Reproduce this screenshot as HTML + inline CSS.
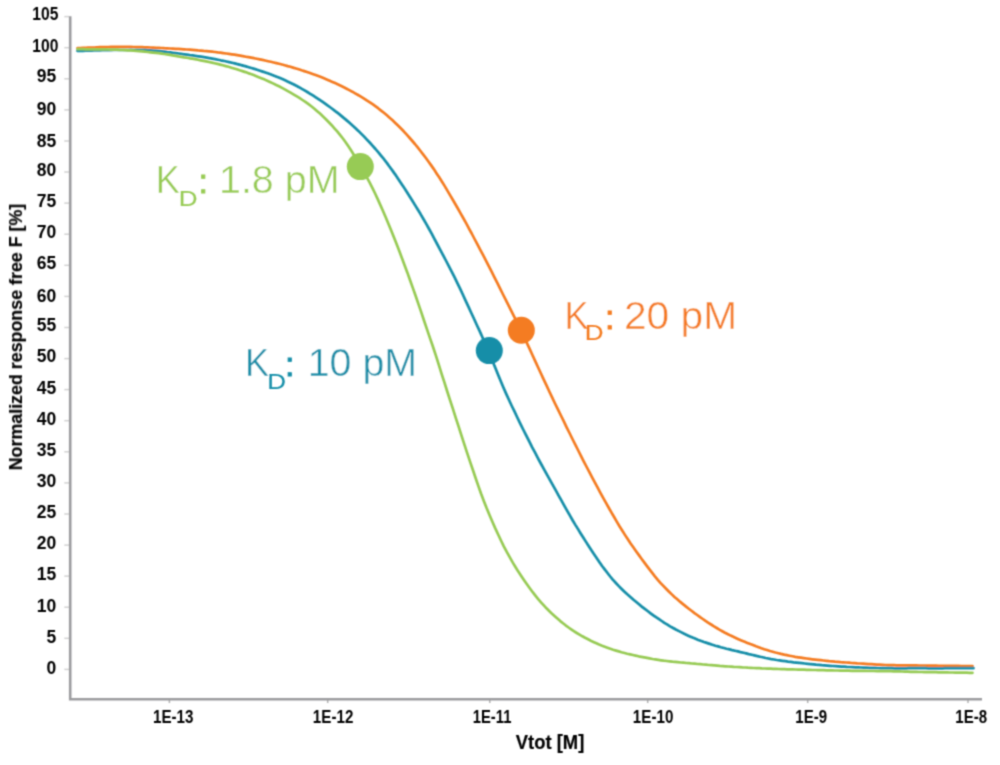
<!DOCTYPE html>
<html><head><meta charset="utf-8"><style>
html,body{margin:0;padding:0;background:#fff;}
body{width:1000px;height:765px;overflow:hidden;font-family:"Liberation Sans",sans-serif;}
svg{display:block;}
</style></head><body>
<svg width="1000" height="765" viewBox="0 0 1000 765">
<defs><filter id="bl" x="0" y="0" width="1000" height="765" filterUnits="userSpaceOnUse"><feConvolveMatrix order="3" kernelMatrix="1 3 1 3 9 3 1 3 1" divisor="25" edgeMode="none"/></filter></defs>
<rect width="1000" height="765" fill="#fff"/>
<g filter="url(#bl)">
<g fill="none" stroke-linecap="butt">
<line x1="64.3" y1="669.4" x2="69" y2="669.4" stroke="#d2d2d2" stroke-width="1.5"/>
<line x1="64.3" y1="638.3" x2="69" y2="638.3" stroke="#d2d2d2" stroke-width="1.5"/>
<line x1="64.3" y1="607.2" x2="69" y2="607.2" stroke="#d2d2d2" stroke-width="1.5"/>
<line x1="64.3" y1="576.1" x2="69" y2="576.1" stroke="#d2d2d2" stroke-width="1.5"/>
<line x1="64.3" y1="545.1" x2="69" y2="545.1" stroke="#d2d2d2" stroke-width="1.5"/>
<line x1="64.3" y1="514.0" x2="69" y2="514.0" stroke="#d2d2d2" stroke-width="1.5"/>
<line x1="64.3" y1="482.9" x2="69" y2="482.9" stroke="#d2d2d2" stroke-width="1.5"/>
<line x1="64.3" y1="451.8" x2="69" y2="451.8" stroke="#d2d2d2" stroke-width="1.5"/>
<line x1="64.3" y1="420.7" x2="69" y2="420.7" stroke="#d2d2d2" stroke-width="1.5"/>
<line x1="64.3" y1="389.6" x2="69" y2="389.6" stroke="#d2d2d2" stroke-width="1.5"/>
<line x1="64.3" y1="358.6" x2="69" y2="358.6" stroke="#d2d2d2" stroke-width="1.5"/>
<line x1="64.3" y1="327.5" x2="69" y2="327.5" stroke="#d2d2d2" stroke-width="1.5"/>
<line x1="64.3" y1="296.4" x2="69" y2="296.4" stroke="#d2d2d2" stroke-width="1.5"/>
<line x1="64.3" y1="265.3" x2="69" y2="265.3" stroke="#d2d2d2" stroke-width="1.5"/>
<line x1="64.3" y1="234.2" x2="69" y2="234.2" stroke="#d2d2d2" stroke-width="1.5"/>
<line x1="64.3" y1="203.1" x2="69" y2="203.1" stroke="#d2d2d2" stroke-width="1.5"/>
<line x1="64.3" y1="172.0" x2="69" y2="172.0" stroke="#d2d2d2" stroke-width="1.5"/>
<line x1="64.3" y1="141.0" x2="69" y2="141.0" stroke="#d2d2d2" stroke-width="1.5"/>
<line x1="64.3" y1="109.9" x2="69" y2="109.9" stroke="#d2d2d2" stroke-width="1.5"/>
<line x1="64.3" y1="78.8" x2="69" y2="78.8" stroke="#d2d2d2" stroke-width="1.5"/>
<line x1="64.3" y1="47.7" x2="69" y2="47.7" stroke="#d2d2d2" stroke-width="1.5"/>
<line x1="64.3" y1="16.6" x2="69" y2="16.6" stroke="#d2d2d2" stroke-width="1.5"/>
<line x1="169.4" y1="700" x2="169.4" y2="703" stroke="#b0b0b0" stroke-width="1.5"/>
<line x1="327.7" y1="700" x2="327.7" y2="703" stroke="#b0b0b0" stroke-width="1.5"/>
<line x1="489.8" y1="700" x2="489.8" y2="703" stroke="#b0b0b0" stroke-width="1.5"/>
<line x1="647.7" y1="700" x2="647.7" y2="703" stroke="#b0b0b0" stroke-width="1.5"/>
<line x1="807.7" y1="700" x2="807.7" y2="703" stroke="#b0b0b0" stroke-width="1.5"/>
<line x1="968.0" y1="700" x2="968.0" y2="703" stroke="#b0b0b0" stroke-width="1.5"/>
<path d="M70.2 16.2 V699.2 H982" stroke="#9c9c9f" stroke-width="2.6"/>
</g>
<g font-family="Liberation Sans, sans-serif" font-weight="bold" font-size="17.5" fill="#000" text-anchor="end">
<text x="58.3" y="20.0" textLength="26" lengthAdjust="spacingAndGlyphs">105</text>
<text x="58.3" y="51.8" textLength="26" lengthAdjust="spacingAndGlyphs">100</text>
<text x="56.2" y="82.0">95</text>
<text x="56.2" y="115.2">90</text>
<text x="56.2" y="146.5">85</text>
<text x="56.2" y="175.6">80</text>
<text x="56.2" y="206.7">75</text>
<text x="56.2" y="237.8">70</text>
<text x="56.2" y="269.0">65</text>
<text x="56.2" y="302.4">60</text>
<text x="56.2" y="331.3">55</text>
<text x="56.2" y="362.4">50</text>
<text x="56.2" y="393.6">45</text>
<text x="56.2" y="424.7">40</text>
<text x="56.2" y="455.8">35</text>
<text x="56.2" y="487.2">30</text>
<text x="56.2" y="518.1">25</text>
<text x="56.2" y="549.2">20</text>
<text x="56.2" y="580.4">15</text>
<text x="56.2" y="611.5">10</text>
<text x="56.2" y="642.7">5</text>
<text x="56.2" y="673.8">0</text>
</g>
<g font-family="Liberation Sans, sans-serif" font-weight="bold" font-size="17.5" fill="#000" text-anchor="middle">
<text x="173.2" y="722.6" textLength="40.5" lengthAdjust="spacingAndGlyphs">1E-13</text>
<text x="333.1" y="722.6" textLength="40.5" lengthAdjust="spacingAndGlyphs">1E-12</text>
<text x="492.1" y="722.6" textLength="38.7" lengthAdjust="spacingAndGlyphs">1E-11</text>
<text x="653.1" y="722.6" textLength="40.5" lengthAdjust="spacingAndGlyphs">1E-10</text>
<text x="811.2" y="722.6" textLength="31.8" lengthAdjust="spacingAndGlyphs">1E-9</text>
<text x="971.2" y="722.6" textLength="31.8" lengthAdjust="spacingAndGlyphs">1E-8</text>
</g>
<text x="550.05" y="749" font-family="Liberation Sans, sans-serif" font-weight="bold" font-size="19.5" fill="#000" stroke="#000" stroke-width="0.2" text-anchor="middle" textLength="68.5" lengthAdjust="spacingAndGlyphs">Vtot [M]</text>
<text transform="translate(22 470.3) rotate(-90)" x="0" y="0" font-family="Liberation Sans, sans-serif" font-weight="bold" font-size="17.5" fill="#000" stroke="#000" stroke-width="0.2" textLength="266.5" lengthAdjust="spacingAndGlyphs">Normalized response free F [%]</text>
<path d="M77.5 48.0 L80.2 48.0 L82.9 47.9 L85.8 47.8 L88.5 47.7 L91.5 47.6 L94.2 47.5 L96.9 47.3 L99.9 47.2 L102.6 47.1 L105.6 47.0 L108.2 47.0 L110.9 46.9 L113.9 46.9 L116.6 46.9 L119.6 46.8 L122.3 46.8 L125.0 46.8 L128.0 46.9 L130.6 46.9 L133.6 47.0 L136.3 47.1 L139.0 47.1 L142.0 47.2 L144.7 47.3 L147.7 47.4 L150.4 47.5 L153.0 47.6 L156.0 47.8 L158.7 47.9 L161.7 48.0 L164.4 48.2 L167.1 48.3 L170.1 48.5 L172.8 48.6 L175.7 48.8 L178.4 48.9 L181.1 49.1 L184.1 49.3 L186.8 49.5 L189.8 49.7 L192.5 49.9 L195.2 50.1 L198.1 50.4 L200.8 50.6 L203.8 50.9 L206.5 51.1 L209.2 51.4 L212.2 51.7 L214.9 52.0 L217.8 52.4 L220.5 52.7 L223.2 53.1 L226.2 53.5 L228.9 53.9 L231.8 54.3 L234.5 54.7 L237.2 55.2 L240.2 55.7 L242.8 56.1 L245.8 56.7 L248.5 57.2 L251.2 57.7 L254.1 58.2 L256.8 58.8 L259.8 59.4 L262.4 59.9 L265.1 60.5 L268.1 61.2 L270.8 61.8 L273.7 62.5 L276.4 63.1 L279.1 63.8 L282.0 64.5 L284.7 65.2 L287.7 66.1 L290.4 66.8 L293.0 67.6 L296.0 68.5 L298.7 69.3 L301.6 70.3 L304.3 71.1 L307.0 72.0 L310.0 73.1 L312.6 74.0 L315.6 75.1 L318.3 76.1 L321.0 77.1 L324.0 78.3 L326.7 79.4 L329.7 80.7 L332.4 81.9 L335.1 83.1 L338.1 84.5 L340.8 85.8 L343.8 87.3 L346.6 88.7 L349.3 90.1 L352.3 91.7 L355.1 93.3 L358.1 95.0 L360.9 96.6 L363.7 98.3 L366.7 100.3 L369.5 102.1 L372.6 104.2 L375.3 106.1 L378.1 108.2 L381.1 110.6 L383.9 112.8 L386.9 115.3 L389.6 117.7 L392.3 120.1 L395.3 122.9 L398.0 125.5 L401.0 128.5 L403.7 131.3 L406.3 134.2 L409.3 137.5 L411.9 140.5 L414.9 144.0 L417.5 147.2 L420.1 150.5 L423.1 154.3 L425.7 157.7 L428.6 161.7 L431.2 165.4 L433.8 169.1 L436.6 173.4 L439.2 177.3 L442.0 181.8 L444.6 185.9 L447.1 190.1 L449.9 194.9 L452.5 199.2 L455.4 204.2 L458.0 208.7 L460.6 213.3 L463.5 218.5 L466.1 223.2 L469.0 228.6 L471.7 233.5 L474.3 238.5 L477.3 244.1 L479.9 249.2 L483.0 254.9 L485.7 260.1 L488.4 265.4 L491.5 271.4 L494.2 276.8 L497.3 282.9 L500.0 288.4 L502.8 294.0 L505.9 300.2 L508.8 305.8 L511.9 312.1 L514.8 317.8 L517.6 323.5 L520.8 330.0 L523.5 335.8 L526.6 342.3 L529.3 348.1 L532.3 354.7 L535.0 360.6 L537.7 366.5 L540.7 373.0 L543.4 378.9 L546.5 385.4 L549.2 391.3 L552.0 397.1 L555.0 403.5 L557.8 409.2 L560.9 415.5 L563.7 421.2 L566.4 426.8 L569.5 433.0 L572.2 438.5 L575.3 444.6 L578.0 450.0 L580.7 455.4 L583.7 461.3 L586.4 466.5 L589.4 472.2 L592.1 477.3 L594.8 482.4 L597.8 487.9 L600.4 492.8 L603.3 498.1 L606.0 502.8 L608.6 507.5 L611.5 512.6 L614.1 517.0 L616.9 521.9 L619.5 526.3 L622.2 530.5 L625.1 535.1 L627.7 539.1 L630.6 543.5 L633.3 547.3 L635.9 551.0 L638.9 555.1 L641.5 558.7 L644.4 562.6 L647.0 566.1 L649.5 569.4 L652.4 573.1 L654.9 576.3 L657.8 579.8 L660.4 582.8 L663.1 585.7 L666.1 588.8 L668.8 591.5 L671.8 594.4 L674.5 596.9 L677.3 599.3 L680.3 601.9 L683.0 604.1 L686.1 606.6 L688.8 608.7 L691.5 610.8 L694.5 613.1 L697.2 615.0 L700.1 617.2 L702.8 619.0 L705.5 620.9 L708.4 622.8 L711.1 624.5 L714.0 626.4 L716.7 628.0 L719.4 629.6 L722.3 631.2 L725.0 632.7 L728.0 634.2 L730.7 635.6 L733.3 636.8 L736.3 638.2 L739.0 639.4 L742.0 640.7 L744.7 641.8 L747.4 642.9 L750.3 644.1 L753.0 645.1 L756.0 646.3 L758.7 647.2 L761.4 648.2 L764.3 649.2 L767.0 650.0 L770.0 651.0 L772.7 651.7 L775.4 652.5 L778.4 653.2 L781.1 653.9 L784.1 654.6 L786.8 655.1 L789.5 655.7 L792.5 656.3 L795.2 656.8 L798.3 657.3 L801.0 657.7 L803.7 658.1 L806.7 658.5 L809.4 658.9 L812.4 659.3 L815.1 659.6 L817.8 659.9 L820.8 660.2 L823.5 660.5 L826.5 660.8 L829.2 661.1 L831.9 661.3 L834.9 661.6 L837.6 661.8 L840.6 662.1 L843.3 662.3 L846.0 662.5 L849.0 662.7 L851.7 663.0 L854.6 663.2 L857.3 663.4 L860.0 663.5 L863.0 663.7 L865.7 663.9 L868.7 664.1 L871.4 664.2 L874.0 664.4 L877.0 664.6 L879.7 664.7 L882.7 664.8 L885.4 665.0 L888.1 665.1 L891.1 665.2 L893.8 665.2 L896.7 665.3 L899.4 665.3 L902.1 665.4 L905.1 665.4 L907.8 665.4 L910.8 665.4 L913.5 665.4 L916.2 665.4 L919.1 665.5 L921.8 665.5 L924.8 665.5 L927.5 665.6 L930.2 665.6 L933.2 665.7 L935.8 665.7 L938.8 665.8 L941.5 665.8 L944.2 665.8 L947.2 665.9 L949.9 665.9 L952.8 665.9 L955.5 665.9 L958.2 665.9 L961.2 666.0 L963.9 666.0 L966.9 666.0 L969.6 666.1 L972.5 666.1" fill="none" stroke="#f47c20" stroke-width="2.70" stroke-linejoin="round" stroke-linecap="round"/>
<path d="M77.4 50.8 L80.1 50.8 L82.8 50.8 L85.8 50.7 L88.5 50.7 L91.5 50.6 L94.2 50.5 L96.9 50.4 L99.9 50.3 L102.6 50.2 L105.6 50.2 L108.2 50.1 L110.9 50.1 L113.9 50.0 L116.6 50.0 L119.6 50.0 L122.3 50.0 L125.0 50.0 L128.0 50.0 L130.7 49.9 L133.7 50.0 L136.4 50.0 L139.1 50.0 L142.1 50.0 L144.8 50.1 L147.8 50.3 L150.5 50.4 L153.2 50.6 L156.2 50.8 L158.9 51.1 L161.9 51.4 L164.6 51.7 L167.2 52.1 L170.2 52.4 L172.9 52.8 L175.9 53.2 L178.6 53.5 L181.3 53.9 L184.3 54.3 L186.9 54.6 L189.9 55.1 L192.6 55.4 L195.3 55.8 L198.3 56.3 L201.0 56.7 L204.0 57.2 L206.7 57.6 L209.4 58.1 L212.3 58.6 L215.0 59.1 L218.0 59.7 L220.7 60.3 L223.4 60.8 L226.4 61.5 L229.1 62.1 L232.0 62.8 L234.7 63.4 L237.4 64.1 L240.4 64.9 L243.1 65.6 L246.0 66.4 L248.7 67.2 L251.4 68.0 L254.4 68.9 L257.1 69.7 L260.0 70.7 L262.7 71.6 L265.4 72.5 L268.4 73.5 L271.1 74.5 L274.1 75.7 L276.7 76.7 L279.4 77.8 L282.4 79.1 L285.1 80.3 L288.0 81.7 L290.7 83.0 L293.4 84.3 L296.3 85.8 L299.0 87.2 L301.9 88.9 L304.6 90.4 L307.3 92.0 L310.2 93.8 L312.9 95.4 L315.8 97.3 L318.5 99.1 L321.2 100.9 L324.1 102.9 L326.8 104.8 L329.8 107.0 L332.5 109.0 L335.2 111.1 L338.3 113.4 L341.0 115.6 L344.0 118.1 L346.7 120.4 L349.5 122.8 L352.5 125.5 L355.3 128.0 L358.4 130.9 L361.1 133.6 L363.9 136.4 L366.9 139.6 L369.7 142.5 L372.7 145.9 L375.5 149.0 L378.2 152.2 L381.2 155.8 L384.0 159.2 L387.0 163.1 L389.6 166.7 L392.3 170.4 L395.3 174.6 L397.9 178.5 L400.9 182.9 L403.6 186.9 L406.2 191.0 L409.2 195.7 L411.9 200.0 L414.9 204.9 L417.6 209.3 L420.4 213.8 L423.4 219.0 L426.1 223.7 L429.1 229.0 L431.8 233.9 L434.4 238.9 L437.4 244.5 L440.1 249.6 L443.2 255.3 L445.9 260.5 L448.7 265.8 L451.8 271.8 L454.5 277.2 L457.5 283.3 L460.2 288.9 L462.8 294.5 L465.7 300.9 L468.4 306.6 L471.3 313.0 L474.0 318.8 L476.7 324.7 L479.7 331.1 L482.3 337.0 L485.3 343.6 L487.8 349.6 L490.3 355.6 L493.0 362.3 L495.5 368.3 L498.2 375.1 L500.7 381.1 L503.2 387.0 L506.1 393.6 L508.8 399.5 L511.8 406.0 L514.6 411.7 L517.3 417.5 L520.4 423.8 L523.2 429.5 L526.3 435.7 L529.1 441.2 L532.2 447.3 L535.1 452.7 L537.9 458.1 L541.1 464.0 L543.9 469.2 L547.1 474.9 L549.9 479.9 L552.7 484.9 L555.8 490.4 L558.5 495.3 L561.5 500.7 L564.1 505.4 L566.8 510.1 L569.7 515.2 L572.3 519.7 L575.2 524.6 L577.9 528.9 L580.5 533.2 L583.4 537.8 L586.0 541.9 L588.8 546.3 L591.4 550.3 L593.9 554.1 L596.8 558.3 L599.3 562.0 L602.1 566.0 L604.7 569.4 L607.3 572.8 L610.2 576.5 L612.8 579.6 L615.9 583.0 L618.6 585.9 L621.4 588.7 L624.5 591.7 L627.3 594.3 L630.4 597.0 L633.2 599.5 L636.0 601.8 L639.0 604.3 L641.8 606.6 L644.8 608.9 L647.6 611.0 L650.3 613.1 L653.3 615.3 L656.0 617.2 L659.0 619.2 L661.7 621.0 L664.4 622.8 L667.4 624.6 L670.1 626.3 L673.1 628.0 L675.8 629.5 L678.5 630.9 L681.5 632.4 L684.2 633.8 L687.2 635.2 L689.9 636.4 L692.6 637.6 L695.6 638.8 L698.3 639.9 L701.3 641.0 L704.0 642.0 L706.7 642.9 L709.7 643.9 L712.4 644.8 L715.4 645.7 L718.1 646.4 L720.8 647.2 L723.8 648.0 L726.5 648.7 L729.5 649.4 L732.2 650.1 L734.9 650.7 L737.9 651.4 L740.5 652.1 L743.5 652.8 L746.2 653.4 L748.8 654.1 L751.8 654.8 L754.4 655.4 L757.4 656.1 L760.0 656.7 L762.7 657.3 L765.7 658.0 L768.3 658.5 L771.3 659.1 L774.0 659.5 L776.7 660.0 L779.6 660.4 L782.3 660.8 L785.3 661.2 L788.0 661.6 L790.7 661.9 L793.6 662.3 L796.3 662.6 L799.3 662.9 L802.0 663.2 L804.7 663.5 L807.7 663.8 L810.4 664.1 L813.3 664.4 L816.0 664.7 L818.7 664.9 L821.7 665.2 L824.4 665.4 L827.4 665.6 L830.1 665.8 L832.7 666.0 L835.7 666.2 L838.4 666.4 L841.4 666.6 L844.1 666.7 L846.8 666.9 L849.8 667.0 L852.5 667.1 L855.5 667.3 L858.1 667.4 L860.8 667.5 L863.8 667.6 L866.5 667.7 L869.5 667.8 L872.2 667.8 L874.9 667.9 L877.9 668.0 L880.6 668.1 L883.6 668.1 L886.2 668.2 L888.9 668.2 L891.9 668.2 L894.6 668.3 L897.6 668.3 L900.3 668.3 L903.0 668.3 L906.0 668.3 L908.7 668.2 L911.7 668.2 L914.3 668.2 L917.0 668.2 L920.0 668.2 L922.7 668.2 L925.7 668.2 L928.4 668.3 L931.1 668.3 L934.1 668.3 L936.8 668.3 L939.7 668.3 L942.4 668.3 L945.1 668.2 L948.1 668.2 L950.8 668.2 L953.8 668.2 L956.5 668.2 L959.2 668.2 L962.2 668.2 L964.8 668.1 L967.8 668.1 L970.5 668.1 L973.5 668.2" fill="none" stroke="#138ea8" stroke-width="2.70" stroke-linejoin="round" stroke-linecap="round"/>
<path d="M77.5 49.2 L80.2 49.2 L82.9 49.2 L85.8 49.3 L88.5 49.3 L91.5 49.3 L94.2 49.3 L96.9 49.3 L99.9 49.4 L102.6 49.4 L105.6 49.4 L108.3 49.5 L110.9 49.6 L113.9 49.7 L116.6 49.7 L119.6 49.9 L122.3 50.0 L125.0 50.1 L128.0 50.3 L130.7 50.4 L133.7 50.6 L136.3 50.9 L139.0 51.1 L142.0 51.4 L144.7 51.7 L147.7 52.0 L150.3 52.3 L153.0 52.6 L156.0 52.9 L158.7 53.2 L161.7 53.6 L164.3 54.0 L167.0 54.4 L170.0 54.9 L172.6 55.4 L175.6 55.9 L178.3 56.4 L181.0 56.8 L183.9 57.3 L186.6 57.7 L189.6 58.3 L192.2 58.7 L194.9 59.2 L197.9 59.8 L200.6 60.3 L203.5 60.9 L206.2 61.4 L208.9 62.0 L211.9 62.6 L214.5 63.2 L217.5 63.9 L220.2 64.6 L222.8 65.3 L225.8 66.1 L228.5 66.8 L231.4 67.7 L234.1 68.5 L236.8 69.3 L239.7 70.3 L242.4 71.1 L245.4 72.1 L248.1 73.1 L250.8 74.0 L253.7 75.1 L256.4 76.2 L259.4 77.4 L262.1 78.5 L264.8 79.6 L267.8 81.0 L270.5 82.2 L273.5 83.6 L276.2 85.0 L279.0 86.3 L282.0 87.9 L284.8 89.4 L287.8 91.1 L290.6 92.7 L293.4 94.3 L296.5 96.2 L299.4 97.9 L302.5 100.0 L305.4 101.9 L308.2 103.9 L311.3 106.3 L314.1 108.5 L317.2 111.2 L320.0 113.6 L322.8 116.2 L325.9 119.2 L328.6 122.0 L331.7 125.2 L334.4 128.3 L337.2 131.4 L340.2 135.1 L342.9 138.5 L345.8 142.5 L348.4 146.3 L351.0 150.2 L353.8 154.7 L356.3 158.9 L359.1 163.7 L361.6 168.1 L364.2 172.7 L367.1 177.9 L369.7 182.7 L372.6 188.3 L375.1 193.5 L377.6 198.9 L380.4 205.1 L382.9 210.8 L385.7 217.3 L388.2 223.3 L390.8 229.5 L393.6 236.6 L396.2 243.1 L399.1 250.6 L401.7 257.4 L404.3 264.5 L407.3 272.4 L409.9 279.8 L412.9 288.1 L415.6 295.8 L418.3 303.6 L421.3 312.4 L424.0 320.5 L427.1 329.6 L429.9 337.9 L432.8 346.2 L435.9 355.6 L438.6 364.2 L441.6 373.8 L444.4 382.4 L447.1 391.0 L450.2 400.6 L453.0 409.2 L456.0 418.7 L458.8 427.2 L461.5 435.7 L464.5 444.9 L467.2 453.1 L470.2 462.1 L472.9 470.0 L475.5 477.7 L478.4 486.1 L481.0 493.5 L484.0 501.4 L486.7 508.3 L489.5 515.0 L492.6 522.2 L495.3 528.4 L498.4 535.0 L501.1 540.8 L503.8 546.3 L506.9 552.2 L509.7 557.2 L512.8 562.6 L515.6 567.2 L518.3 571.6 L521.4 576.3 L524.1 580.3 L527.1 584.6 L529.8 588.3 L532.7 592.2 L535.4 595.6 L538.0 598.8 L541.0 602.3 L543.6 605.2 L546.5 608.3 L549.2 611.0 L551.8 613.6 L554.8 616.3 L557.4 618.6 L560.3 621.1 L563.0 623.3 L565.6 625.3 L568.6 627.5 L571.2 629.3 L574.2 631.3 L576.8 633.0 L579.5 634.6 L582.4 636.3 L585.1 637.8 L588.1 639.3 L590.8 640.7 L593.4 641.9 L596.4 643.3 L599.1 644.5 L602.1 645.7 L604.8 646.7 L607.4 647.7 L610.4 648.8 L613.1 649.7 L616.1 650.6 L618.8 651.4 L621.5 652.2 L624.5 653.0 L627.2 653.7 L630.2 654.4 L632.9 655.0 L635.6 655.6 L638.6 656.3 L641.3 656.8 L644.3 657.4 L647.0 657.9 L649.6 658.4 L652.6 659.0 L655.3 659.4 L658.3 659.9 L661.0 660.3 L663.7 660.7 L666.7 661.0 L669.4 661.3 L672.4 661.7 L675.1 661.9 L677.7 662.2 L680.7 662.5 L683.4 662.7 L686.4 663.0 L689.1 663.2 L691.8 663.5 L694.8 663.7 L697.4 664.0 L700.4 664.2 L703.1 664.5 L705.8 664.7 L708.8 665.0 L711.4 665.2 L714.4 665.4 L717.1 665.6 L719.8 665.9 L722.8 666.1 L725.5 666.3 L728.4 666.5 L731.1 666.7 L733.8 666.9 L736.8 667.0 L739.5 667.2 L742.4 667.4 L745.1 667.5 L747.8 667.7 L750.8 667.8 L753.5 668.0 L756.5 668.1 L759.1 668.2 L761.8 668.4 L764.8 668.5 L767.5 668.6 L770.5 668.7 L773.2 668.8 L775.8 668.9 L778.8 669.0 L781.5 669.1 L784.5 669.2 L787.2 669.3 L789.9 669.3 L792.9 669.4 L795.5 669.5 L798.5 669.6 L801.2 669.7 L803.9 669.7 L806.9 669.8 L809.6 669.9 L812.5 670.0 L815.2 670.0 L817.9 670.1 L820.9 670.2 L823.6 670.2 L826.6 670.3 L829.3 670.4 L831.9 670.4 L834.9 670.5 L837.6 670.5 L840.6 670.6 L843.3 670.6 L846.0 670.7 L848.9 670.7 L851.6 670.8 L854.6 670.8 L857.3 670.8 L860.0 670.9 L863.0 670.9 L865.7 670.9 L868.6 671.0 L871.3 671.0 L874.0 671.0 L877.0 671.1 L879.7 671.1 L882.7 671.1 L885.4 671.1 L888.0 671.2 L891.0 671.2 L893.7 671.3 L896.7 671.3 L899.4 671.4 L902.1 671.5 L905.1 671.6 L907.7 671.7 L910.7 671.8 L913.4 671.8 L916.1 671.9 L919.1 672.0 L921.8 672.0 L924.7 672.1 L927.4 672.1 L930.1 672.2 L933.1 672.2 L935.8 672.2 L938.8 672.3 L941.5 672.3 L944.1 672.4 L947.1 672.4 L949.8 672.5 L952.8 672.5 L955.5 672.6 L958.2 672.6 L961.2 672.7 L963.8 672.7 L966.8 672.7 L969.5 672.8 L972.5 672.8" fill="none" stroke="#97cb54" stroke-width="2.70" stroke-linejoin="round" stroke-linecap="round"/>
<circle cx="360.3" cy="166.6" r="13.5" fill="#97cb54"/>
<circle cx="489.3" cy="350.6" r="13.5" fill="#138ea8"/>
<circle cx="521.3" cy="330.2" r="13.5" fill="#f47c20"/>
<g font-family="Liberation Sans, sans-serif" fill="#97cb54"><text x="155.7" y="193.0" font-size="39.4" textLength="24.2" lengthAdjust="spacingAndGlyphs" stroke="#fff" stroke-width="0.45">K</text><text x="178.8" y="206.1" font-size="21.2" textLength="18.8" lengthAdjust="spacingAndGlyphs" stroke="#97cb54" stroke-width="0.1">D</text><text x="198.4" y="193.0" font-size="34" stroke="#97cb54" stroke-width="0.9">:</text><text x="219.0" y="193.0" font-size="39.4" textLength="120.5" lengthAdjust="spacingAndGlyphs" stroke="#fff" stroke-width="0.45">1.8 pM</text></g>
<g font-family="Liberation Sans, sans-serif" fill="#138ea8"><text x="244.9" y="375.5" font-size="39.4" textLength="24.2" lengthAdjust="spacingAndGlyphs" stroke="#fff" stroke-width="0.45">K</text><text x="267.2" y="388.7" font-size="21.2" textLength="18.8" lengthAdjust="spacingAndGlyphs" stroke="#138ea8" stroke-width="0.1">D</text><text x="285.0" y="375.5" font-size="34" stroke="#138ea8" stroke-width="0.9">:</text><text x="307.7" y="375.6" font-size="39.4" textLength="109.5" lengthAdjust="spacingAndGlyphs" stroke="#fff" stroke-width="0.45">10 pM</text></g>
<g font-family="Liberation Sans, sans-serif" fill="#f47c20"><text x="564.5" y="328.7" font-size="39.4" textLength="24.2" lengthAdjust="spacingAndGlyphs" stroke="#fff" stroke-width="0.45">K</text><text x="584.8" y="339.9" font-size="21.2" textLength="18.8" lengthAdjust="spacingAndGlyphs" stroke="#f47c20" stroke-width="0.1">D</text><text x="605.0" y="328.7" font-size="34" stroke="#f47c20" stroke-width="0.9">:</text><text x="623.9" y="329.2" font-size="39.4" textLength="113.2" lengthAdjust="spacingAndGlyphs" stroke="#fff" stroke-width="0.45">20 pM</text></g>
</g>
</svg>
</body></html>
